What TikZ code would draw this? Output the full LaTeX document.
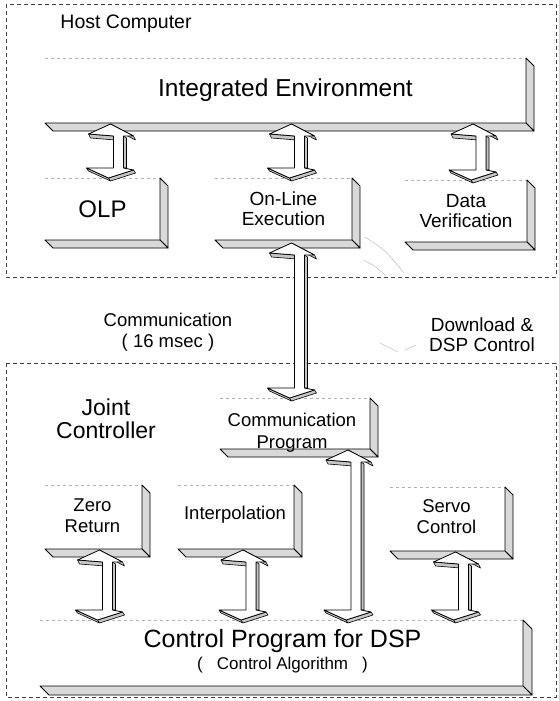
\documentclass[tikz,border=0pt]{standalone}
\usepackage{fontspec}
\setmainfont{Liberation Sans}
\usetikzlibrary{calc}
\newcommand\fs[2]{\fontsize{#1}{#2}\selectfont}
\newcommand\slab[2][8]{%
  \draw[frontedge] (#2.north west) -- (#2.north east);
  \filldraw[face] (#2.north east) -- ++(#1,#1) -- ($(#2.south east)+(#1,#1)$) -- (#2.south east) -- cycle;
  \filldraw[face] (#2.south west) -- (#2.south east) -- ($(#2.south east)+(#1,#1)$) -- ($(#2.south west)+(#1,#1)$) -- cycle;
}
% 3D double arrow: #1 = top end (shaft centre), #2 = bottom end (shaft centre)
\newcommand\tdarrow[2]{%
  \filldraw[arrowdepth] let \p1=(#1), \p2=(#2) in
    % shaft side face
    (\x1+5pt,\y1-12pt) -- (\x1+8pt,\y1-14pt) -- (\x2+8pt,\y2+10pt) -- (\x2+5pt,\y2+10pt) -- cycle
    % top head thickness
    (\x1-8pt,\y1) -- (\x1+15pt,\y1-12pt) -- (\x1+17pt,\y1-16pt) -- (\x1-6pt,\y1-4pt) -- cycle
    (\x1-30pt,\y1-10pt) -- (\x1-5pt,\y1-12pt) -- (\x1-3pt,\y1-16pt) -- (\x1-28pt,\y1-14pt) -- cycle
    % bottom head thickness
    (\x2-32pt,\y2+10pt) -- (\x2-10pt,\y2) -- (\x2-8pt,\y2-3pt) -- (\x2-30pt,\y2+7pt) -- cycle
    (\x2-10pt,\y2) -- (\x2+15pt,\y2+8pt) -- (\x2+17pt,\y2+5pt) -- (\x2-8pt,\y2-3pt) -- cycle;
  \filldraw[arrowface] let \p1=(#1), \p2=(#2) in
    (\x1-8pt,\y1) -- (\x1+15pt,\y1-12pt) -- (\x1+5pt,\y1-12pt) -- (\x2+5pt,\y2+10pt)
    -- (\x2+15pt,\y2+8pt) -- (\x2-10pt,\y2) -- (\x2-32pt,\y2+10pt) -- (\x2-5pt,\y2+10pt)
    -- (\x1-5pt,\y1-12pt) -- (\x1-30pt,\y1-10pt) -- cycle;
}
\begin{document}
\begin{tikzpicture}[x=1pt,y=-1pt,
  slabbox/.style={inner sep=0pt, outer sep=0pt, fill=white},
  face/.style={draw=black, line width=0.9pt, fill=gray!30, line join=round},
  frontedge/.style={draw=gray!60, dashed, line width=0.4pt},
  region/.style={draw=black!75, line width=0.5pt, dash pattern=on 4pt off 3pt},
  arrowface/.style={draw=black, line width=0.8pt, fill=white, line join=round},
  arrowdepth/.style={draw=black, line width=0.6pt, fill=gray!45, line join=round},
  lbl/.style={align=center, inner sep=0pt, text=black},
  faint/.style={draw=gray!60, line width=0.4pt}]
\useasboundingbox (0,0) rectangle (559,701);
\fill[white] (0,0) rectangle (559,701);

% regions
\draw[region] (6,4) rectangle (556,277);
\draw[region] (6,363) rectangle (556,697);

% boxes
\node[slabbox, minimum width=481pt, minimum height=65pt] (ie) at (285.5,90.5) {};
\node[slabbox, minimum width=115pt, minimum height=62pt] (olp) at (102.5,209) {};
\node[slabbox, minimum width=137pt, minimum height=62pt] (ole) at (283.5,209) {};
\node[slabbox, minimum width=122pt, minimum height=62pt] (dv) at (466,211) {};
\node[slabbox, minimum width=150pt, minimum height=51pt] (cp) at (295,423.5) {};
\node[slabbox, minimum width=97pt, minimum height=64pt] (zero) at (93.5,517) {};
\node[slabbox, minimum width=116pt, minimum height=64pt] (interp) at (236,517) {};
\node[slabbox, minimum width=115pt, minimum height=64pt] (servo) at (447.5,519) {};
\node[slabbox, minimum width=483pt, minimum height=66pt] (dsp) at (281.5,653) {};

\slab{ie}
\slab{olp}
\slab{ole}
\slab{dv}
\slab{cp}
\slab{zero}
\slab{interp}
\slab{servo}
\slab[9]{dsp}

% faint download curves
\draw[faint] (365,237) .. controls (385,250) .. (404,273);
\draw[faint] (363,260) .. controls (375,266) .. (386,276);
\draw[faint] (380,343) -- (398,352);
\draw[faint] (405,350) -- (416,345);

% arrows
\tdarrow{$(ie.south -| olp.north)+(16,1)$}{$(olp.north)+(16,0)$}
\tdarrow{$(ie.south -| ole.north)+(16,1)$}{$(ole.north)+(16,0)$}
\tdarrow{$(ie.south -| dv.north)+(15,1)$}{$(dv.north)+(15,0)$}
\tdarrow{$(ole.south)+(16,3)$}{$(cp.north -| ole.south)+(16,0)$}
\tdarrow{$(cp.south)+(61,1)$}{$(dsp.north -| cp.south)+(61,0)$}
\tdarrow{$(zero.south)+(14,1)$}{$(dsp.north -| zero.south)+(14,0)$}
\tdarrow{$(interp.south)+(15,1)$}{$(dsp.north -| interp.south)+(15,0)$}
\tdarrow{$(servo.south)+(16,1)$}{$(dsp.north -| servo.south)+(16,0)$}

% texts
\node[lbl, font=\fs{19.5}{21}] (host) at (126,24) {Host Computer};
\node[lbl, font=\fs{24.5}{26}] (tie) at (ie.center) {Integrated Environment};
\node[lbl, font=\fs{24}{26}] (tolp) at (olp.center) {OLP};
\node[lbl, font=\fs{19}{20}] (tole) at (ole.center) {On-Line\\Execution};
\node[lbl, font=\fs{19}{20}] (tdv) at (dv.center) {Data\\Verification};
\node[lbl, font=\fs{18.5}{21}] (tcomm) at (168,332) {Communication\\( 16 msec )};
\node[lbl, font=\fs{19}{20}] (tdl) at (482,335) {Download \&\\DSP Control};
\node[lbl, font=\fs{23}{23}] (tjc) at (106,419) {Joint\\Controller};
\node[lbl, font=\fs{18.5}{22}] (tcp) at ($(cp.center)+(-3,9)$) {Communication\\Program};
\node[lbl, font=\fs{18.5}{21}] (tzero) at ($(zero.center)+(-1,-1)$) {Zero\\Return};
\node[lbl, font=\fs{18.5}{21}] (tinterp) at ($(interp.center)+(-1,-2)$) {Interpolation};
\node[lbl, font=\fs{18.5}{21}] (tservo) at ($(servo.center)+(-1,-2)$) {Servo\\Control};
\node[lbl, font=\fs{25}{26}] (tdsp) at ($(dsp.center)+(1,-12)$) {Control Program for DSP};
\node[lbl, font=\fs{17}{18}] (talg) at ($(dsp.center)+(1,12)$) {(\hspace{14pt}Control Algorithm\hspace{14pt})};
\end{tikzpicture}
\end{document}
